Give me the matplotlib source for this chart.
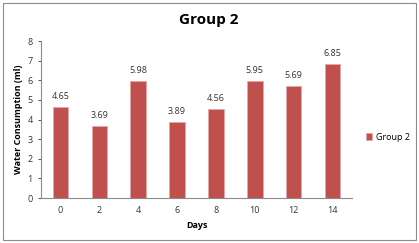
import matplotlib
matplotlib.use("Agg")
import matplotlib.pyplot as plt
from matplotlib.patches import Rectangle

days = ["0", "2", "4", "6", "8", "10", "12", "14"]
values = [4.65, 3.69, 5.98, 3.89, 4.56, 5.95, 5.69, 6.85]
series_name = "Group 2"
title = "Group 2"
xlabel = "Days"
ylabel = "Water Consumption (ml)"

plt.rcParams['font.family'] = ['Open Sans', 'DejaVu Sans']

W, H = 419, 243
fig = plt.figure(figsize=(W/100, H/100), dpi=100)
fig.patches.append(Rectangle((3/W, 3/H), 1-6/W, 1-6/H, transform=fig.transFigure,
                             fill=False, edgecolor='#8c8c8c', linewidth=0.8))
ax = fig.add_axes([41/W, 1-198/H, (352-41)/W, (198-41)/H])

color = '#C0504D'
x = list(range(len(days)))
bars = ax.bar(x, values, width=0.4, color=color, edgecolor='#e4a8a6', linewidth=0.6, label=series_name)
for xi, v in zip(x, values):
    ax.text(xi, v + 0.3, f"{v:.2f}", ha='center', va='bottom', fontsize=6.5, color='#333333')

ax.set_xlim(-0.5, len(days) - 0.5)
ax.set_ylim(0, 8)
ax.set_yticks(range(0, 9))
ax.set_xticks(x)
ax.set_xticklabels(days)
ax.tick_params(axis='both', labelsize=6.5, colors='#333333', length=2.5, width=0.6)
ax.tick_params(axis='x', length=0, pad=6)
for s in ['top', 'right']:
    ax.spines[s].set_visible(False)
for s in ['left', 'bottom']:
    ax.spines[s].set_color('#8c8c8c')
    ax.spines[s].set_linewidth(0.8)

ax.set_xlabel(xlabel, fontsize=6.5, fontweight='bold', labelpad=4)
ax.set_ylabel(ylabel, fontsize=6.5, fontweight='bold', labelpad=3)
fig.text(209/W, 1-20/H, title, ha='center', va='center', fontsize=11, fontweight='bold')

leg = ax.legend(loc='center left', bbox_to_anchor=(358/W, 1-137/H), bbox_transform=fig.transFigure,
                frameon=False, fontsize=6.5, handlelength=0.7, handleheight=0.7, handletextpad=0.4)

fig.savefig("out.png", dpi=100)
